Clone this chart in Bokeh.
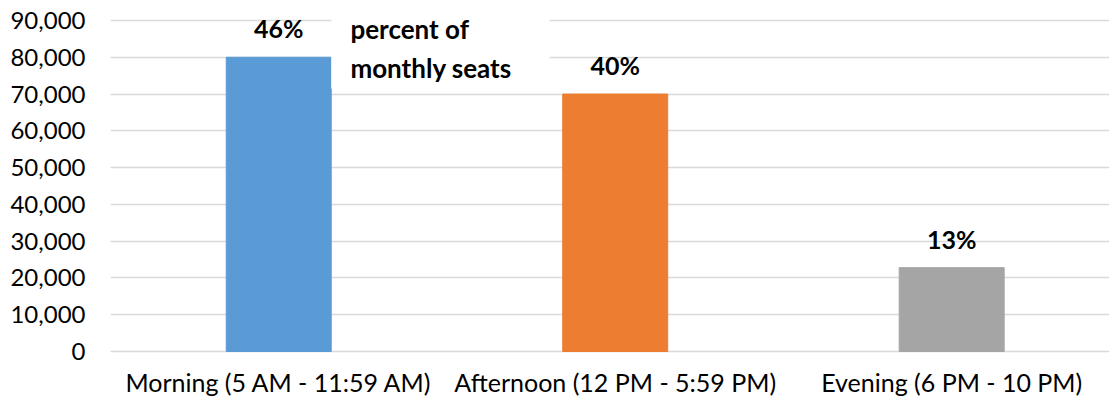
from bokeh.plotting import figure
from bokeh.models import (ColumnDataSource, Range1d, FixedTicker, NumeralTickFormatter,
                          BoxAnnotation, Label)
from bokeh.core.properties import value
from bokeh.embed import file_html
from bokeh.resources import INLINE

# ---- data ----
categories = ["Morning (5 AM - 11:59 AM)", "Afternoon (12 PM - 5:59 PM)", "Evening (6 PM - 10 PM)"]
seats = [80000, 70000, 22800]
percent_labels = ["46%", "40%", "13%"]
bar_colors = ["#5B9BD5", "#ED7D31", "#A5A5A5"]
y_ticks = [0, 10000, 20000, 30000, 40000, 50000, 60000, 70000, 80000, 90000]
annotation_lines = ["percent of", "monthly seats"]

x_pos = [i + 0.5 for i in range(len(categories))]
baseline = [0] * len(categories)

src = ColumnDataSource(dict(x=x_pos, top=seats, color=bar_colors, pct=percent_labels,
                            cat=categories, base=baseline))

FONT = "Lato"

p = figure(width=1109, height=398, output_backend="svg", toolbar_location=None,
           x_range=Range1d(0, 2.969), y_range=Range1d(-12780, 94894),
           min_border_left=110, min_border_right=0, min_border_top=2, min_border_bottom=0)
p.outline_line_color = None
p.background_fill_color = "white"
p.border_fill_color = "white"

p.vbar(x="x", top="top", width=0.312, color="color", source=src)

# value labels
p.text(x="x", y="top", text="pct", source=src, text_align="center", text_baseline="alphabetic",
       y_offset=-29, text_font=value(FONT), text_font_style="bold", text_font_size="25px",
       text_color="black")

# category labels (x axis)
p.text(x="x", y="base", text="cat", source=src, text_align="center", text_baseline="alphabetic",
       y_offset=31, text_font=value(FONT), text_font_size="25px", text_color="black")

# white box behind the note
p.add_layout(BoxAnnotation(left=0.656, right=1.305, bottom=71500, top=94894,
                           fill_color="white", fill_alpha=1.0, line_alpha=0, level="glyph"))
p.add_layout(Label(x=0.713, y=87820, text=annotation_lines[0], text_font=FONT,
                   text_font_style="bold", text_font_size="26px", text_color="black",
                   text_baseline="alphabetic"))
p.add_layout(Label(x=0.713, y=76950, text=annotation_lines[1], text_font=FONT,
                   text_font_style="bold", text_font_size="26px", text_color="black",
                   text_baseline="alphabetic"))

# axes
p.xaxis.visible = False
p.yaxis.ticker = FixedTicker(ticks=y_ticks)
p.yaxis.formatter = NumeralTickFormatter(format="0,0")
p.yaxis.axis_line_color = None
p.yaxis.major_tick_line_color = None
p.yaxis.minor_tick_line_color = None
p.yaxis.major_label_text_font = FONT
p.yaxis.major_label_text_color = "black"
p.yaxis.major_label_text_font_size = "24px"
p.yaxis.major_label_standoff = 19

p.xgrid.grid_line_color = None
p.ygrid.grid_line_color = "#D9D9D9"
p.ygrid.grid_line_width = 1.5

open("out.html", "w").write(file_html(p, INLINE))
